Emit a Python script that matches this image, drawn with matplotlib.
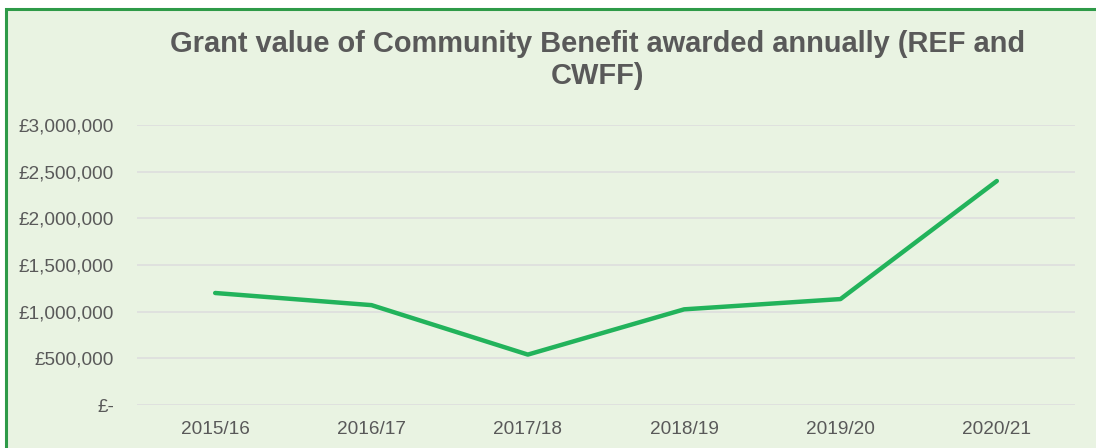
import matplotlib
matplotlib.use('Agg')
from matplotlib import pyplot as plt
from matplotlib.patches import Rectangle
from matplotlib.ticker import FuncFormatter

plt.rcParams['font.family'] = ['Liberation Sans', 'DejaVu Sans']

# dane
years = ['2015/16', '2016/17', '2017/18', '2018/19', '2019/20', '2020/21']
grant_value = [1200000, 1070000, 540000, 1025000, 1135000, 2400000]
y_ticks = [0, 500000, 1000000, 1500000, 2000000, 2500000, 3000000]

bg = '#E9F3E2'
txt = '#595959'

fig = plt.figure(figsize=(10.96, 4.48), dpi=100)
fig.patch.set_facecolor('white')

# tlo i ramka wykresu
W, H = 1096, 448
frame = Rectangle((6 / W, -0.1), 1.2, (448 - 9) / H + 0.1, transform=fig.transFigure,
                  facecolor=bg, edgecolor='#2E9A48', linewidth=2.2, zorder=-5)
fig.patches.append(frame)

ax = fig.add_axes([137 / W, 1 - 405 / H, (1075 - 137) / W, (405 - 125) / H])
ax.set_facecolor('none')
ax.set_zorder(2)

ax.plot(range(len(years)), grant_value, color='#22B35B', linewidth=3.2,
        solid_capstyle='round', zorder=3)

ax.set_xlim(-0.5, len(years) - 0.5)
ax.set_ylim(0, 3000000)
ax.set_xticks(range(len(years)))
ax.set_xticklabels(years)
ax.set_yticks(y_ticks)
ax.yaxis.set_major_formatter(FuncFormatter(lambda v, p: '£-' if v == 0 else '£{:,.0f}'.format(v)))

ax.grid(axis='y', color='#DEDEDE', linewidth=1.2)
ax.set_axisbelow(True)
for s in ax.spines.values():
    s.set_visible(False)
ax.tick_params(length=0, labelsize=13.7, colors=txt)
ax.tick_params(axis='x', pad=11.5)
ax.tick_params(axis='y', pad=16.5)

# tytul
fig.text(598 / W, 1 - 60 / H, 'Grant value of Community Benefit awarded annually (REF and\nCWFF)',
         ha='center', va='center', fontsize=20.9, fontweight='bold', color=txt,
         linespacing=1.2, zorder=3)

fig.savefig('out.png', dpi=100, facecolor=fig.get_facecolor())
